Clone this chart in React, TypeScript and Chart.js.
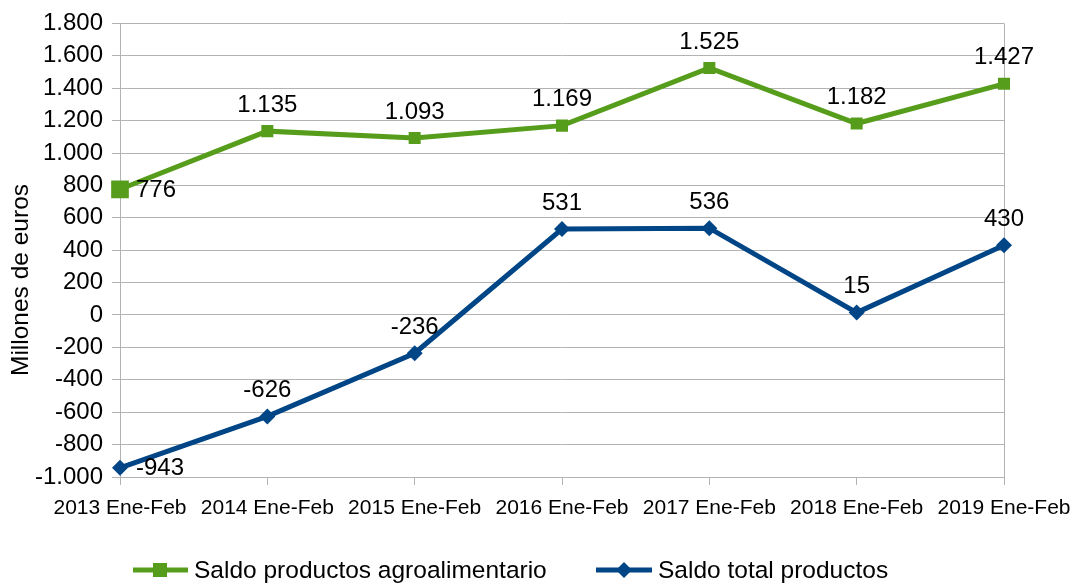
import React, { useEffect, useRef } from "react";
import { Chart, registerables } from "chart.js";

Chart.register(...registerables);

const categories = [
  "2013 Ene-Feb",
  "2014 Ene-Feb",
  "2015 Ene-Feb",
  "2016 Ene-Feb",
  "2017 Ene-Feb",
  "2018 Ene-Feb",
  "2019 Ene-Feb",
];
const agroValues = [776, 1135, 1093, 1169, 1525, 1182, 1427];
const totalValues = [-943, -626, -236, 531, 536, 15, 430];
const seriesNames = ["Saldo productos agroalimentario", "Saldo total productos"];
const yMin = -1000;
const yMax = 1800;
const yStep = 200;
const yTitle = "Millones de euros";

const GREEN = "#579d1c";
const BLUE = "#004586";
const GRID = "#b3b3b3";
const FONT = "'Liberation Sans', Arial, sans-serif";

function fmt(n: number): string {
  const neg = n < 0;
  const s = Math.abs(Math.round(n)).toString();
  const out = s.replace(/\B(?=(\d{3})+(?!\d))/g, ".");
  return (neg ? "-" : "") + out;
}

const overlayPlugin = {
  id: "overlay",
  afterDatasetsDraw(chart: any) {
    const ctx = chart.ctx;
    ctx.save();
    // data labels
    ctx.font = `24px ${FONT}`;
    ctx.fillStyle = "#000";
    ctx.textBaseline = "middle";
    chart.data.datasets.forEach((ds: any, di: number) => {
      const meta = chart.getDatasetMeta(di);
      meta.data.forEach((pt: any, i: number) => {
        const v = ds.data[i];
        const txt = fmt(v);
        if (i === 0) {
          ctx.textAlign = "left";
          ctx.fillText(txt, pt.x + 16, pt.y + 1);
        } else {
          ctx.textAlign = "center";
          ctx.fillText(txt, pt.x, pt.y - 26);
        }
      });
    });
    // y title
    ctx.save();
    ctx.translate(21, 280);
    ctx.rotate(-Math.PI / 2);
    ctx.textAlign = "center";
    ctx.textBaseline = "middle";
    ctx.font = `24.5px ${FONT}`;
    ctx.fillText(yTitle, 0, 0);
    ctx.restore();
    // legend
    const ly = 570;
    ctx.lineWidth = 5;
    ctx.strokeStyle = GREEN;
    ctx.beginPath();
    ctx.moveTo(133, ly);
    ctx.lineTo(188, ly);
    ctx.stroke();
    ctx.fillStyle = GREEN;
    ctx.fillRect(160 - 7, ly - 7, 14, 14);
    ctx.strokeStyle = BLUE;
    ctx.beginPath();
    ctx.moveTo(596, ly);
    ctx.lineTo(652, ly);
    ctx.stroke();
    ctx.fillStyle = BLUE;
    ctx.beginPath();
    ctx.moveTo(624, ly - 8);
    ctx.lineTo(632, ly);
    ctx.lineTo(624, ly + 8);
    ctx.lineTo(616, ly);
    ctx.closePath();
    ctx.fill();
    ctx.fillStyle = "#000";
    ctx.font = `24.5px ${FONT}`;
    ctx.textAlign = "left";
    ctx.textBaseline = "middle";
    ctx.fillText(seriesNames[0], 194, ly + 1);
    ctx.fillText(seriesNames[1], 658, ly + 1);
    ctx.restore();
  },
};

export default function App() {
  const ref = useRef<HTMLCanvasElement | null>(null);
  useEffect(() => {
    document.body.style.margin = "0";
    if (!ref.current) return;
    const last = categories.length - 1;
    const chart = new Chart(ref.current, {
      type: "line",
      data: {
        labels: categories,
        datasets: [
          {
            label: seriesNames[0],
            data: agroValues,
            borderColor: GREEN,
            backgroundColor: GREEN,
            borderWidth: 5,
            pointStyle: "rect",
            pointRadius: agroValues.map((_, i) => (i === 0 ? 12.5 : 8.5)),
            pointBorderWidth: 0,
            tension: 0,
          },
          {
            label: seriesNames[1],
            data: totalValues,
            borderColor: BLUE,
            backgroundColor: BLUE,
            borderWidth: 5,
            pointStyle: "rectRot",
            pointRadius: 8,
            pointBorderWidth: 0,
            tension: 0,
          },
        ],
      },
      options: {
        responsive: false,
        animation: false,
        devicePixelRatio: 1,
        layout: { padding: { left: 0, right: 71, top: 23, bottom: 50 } },
        plugins: {
          legend: { display: false },
          tooltip: { enabled: false },
          title: { display: false },
        },
        scales: {
          x: {
            type: "category",
            offset: false,
            afterFit: (s: any) => {
              s.height = 56;
              s.paddingRight = 0;
              s.paddingLeft = 0;
            },
            grid: {
              drawOnChartArea: true,
              drawTicks: true,
              tickLength: 8,
              color: (c: any) =>
                c.index === 0 || c.index === last ? GRID : "rgba(0,0,0,0)",
              tickColor: GRID,
            },
            border: { display: true, color: GRID },
            ticks: {
              color: "#000",
              font: { family: FONT, size: 21 },
              padding: 11,
              maxRotation: 0,
              autoSkip: false,
            },
          },
          y: {
            min: yMin,
            max: yMax,
            afterFit: (s: any) => {
              s.width = 120;
            },
            grid: {
              color: GRID,
              tickLength: 8,
              tickColor: GRID,
            },
            border: { display: true, color: GRID },
            ticks: {
              stepSize: yStep,
              color: "#000",
              font: { family: FONT, size: 24 },
              padding: 9,
              callback: (v: any) => fmt(Number(v)),
            },
            title: { display: false },
          },
        },
      },
      plugins: [overlayPlugin],
    });
    return () => chart.destroy();
  }, []);
  return (
    <div style={{ width: 1075, height: 583 }}>
      <canvas ref={ref} width={1075} height={583} />
    </div>
  );
}
